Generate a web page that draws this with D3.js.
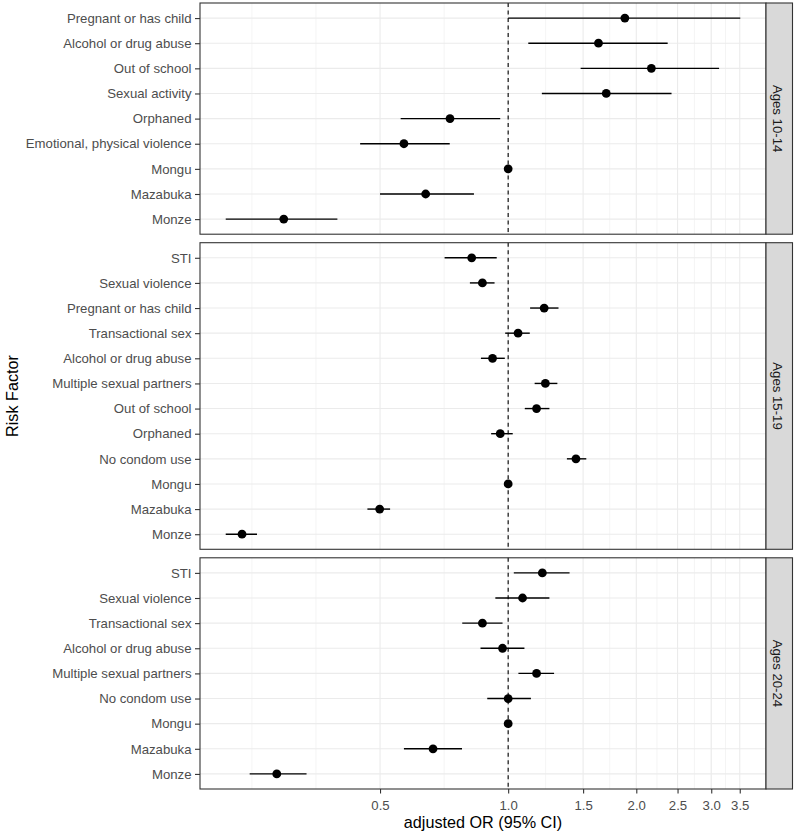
<!DOCTYPE html>
<html>
<head>
<meta charset="utf-8">
<script src="https://cdn.jsdelivr.net/npm/d3@7"></script>
<style>
  body { margin: 0; background: #fff; }
  svg { display: block; font-family: "Liberation Sans", Arial, sans-serif; }
</style>
</head>
<body>
<div id="chart"></div>
<script>
// facet labels
const panelNames = ["Ages 10-14", "Ages 15-19", "Ages 20-24"];

// Ages 10-14
const factors1014 = ["Pregnant or has child", "Alcohol or drug abuse", "Out of school", "Sexual activity",
  "Orphaned", "Emotional, physical violence", "Mongu", "Mazabuka", "Monze"];
const or1014 = [1.88, 1.63, 2.17, 1.70, 0.73, 0.569, 1.0, 0.64, 0.297];
const lower1014 = [1.0, 1.115, 1.48, 1.20, 0.559, 0.449, 1.0, 0.50, 0.217];
const upper1014 = [3.51, 2.37, 3.13, 2.42, 0.958, 0.729, 1.0, 0.831, 0.397];

// Ages 15-19
const factors1519 = ["STI", "Sexual violence", "Pregnant or has child", "Transactional sex", "Alcohol or drug abuse",
  "Multiple sexual partners", "Out of school", "Orphaned", "No condom use", "Mongu", "Mazabuka", "Monze"];
const or1519 = [0.821, 0.870, 1.215, 1.055, 0.919, 1.223, 1.166, 0.958, 1.443, 1.0, 0.499, 0.237];
const lower1519 = [0.709, 0.813, 1.126, 0.984, 0.863, 1.154, 1.094, 0.912, 1.374, 1.0, 0.467, 0.217];
const upper1519 = [0.940, 0.929, 1.313, 1.124, 0.982, 1.305, 1.25, 1.025, 1.526, 1.0, 0.528, 0.257];

// Ages 20-24
const factors2024 = ["STI", "Sexual violence", "Transactional sex", "Alcohol or drug abuse",
  "Multiple sexual partners", "No condom use", "Mongu", "Mazabuka", "Monze"];
const or2024 = [1.203, 1.081, 0.870, 0.970, 1.166, 1.0, 1.0, 0.666, 0.286];
const lower2024 = [1.031, 0.933, 0.780, 0.861, 1.057, 0.893, 1.0, 0.569, 0.247];
const upper2024 = [1.394, 1.25, 0.970, 1.092, 1.282, 1.131, 1.0, 0.779, 0.336];

const xTicks = [0.5, 1.0, 1.5, 2.0, 2.5, 3.0, 3.5];

const width = 794;
const height = 834;
const plotLeft = 200, plotRight = 766;
const plotTop = 3, plotBottom = 789;
const gap = 8.5;
const axisFont = "13.2px";
const titleFont = "16.2px";

function makeRows(factors, or, lower, upper) {
  return factors.map((f, i) => ({ factor: f, or: or[i], lower: lower[i], upper: upper[i] }));
}

const panels = [
  { name: panelNames[0], rows: makeRows(factors1014, or1014, lower1014, upper1014) },
  { name: panelNames[1], rows: makeRows(factors1519, or1519, lower1519, upper1519) },
  { name: panelNames[2], rows: makeRows(factors2024, or2024, lower2024, upper2024) }
];

// panel heights proportional to number of rows (space = "free")
const units = panels.map((p) => p.rows.length + 0.2);
const unitPx = (plotBottom - plotTop - gap * (panels.length - 1)) / d3.sum(units);
let yCursor = plotTop;
panels.forEach((p, i) => {
  p.top = yCursor;
  p.bottom = yCursor + units[i] * unitPx;
  yCursor = p.bottom + gap;
});

// log x scale with 5% expansion like ggplot
const allVals = panels.flatMap((p) => p.rows.flatMap((r) => [r.lower, r.upper, r.or]));
const logMin = Math.log(d3.min(allVals));
const logMax = Math.log(d3.max(allVals));
const pad = (logMax - logMin) * 0.05;
const x = d3.scaleLog()
  .domain([Math.exp(logMin - pad), Math.exp(logMax + pad)])
  .range([plotLeft, plotRight]);

// minor breaks the ggplot way (midpoints in log space)
const logTicks = xTicks.map(Math.log);
const bd = logTicks[1] - logTicks[0];
const ext = [logTicks[0] - bd, ...logTicks, logTicks[logTicks.length - 1] + bd];
const minorTicks = [];
for (let i = 0; i < ext.length - 1; i++) {
  minorTicks.push(Math.exp(ext[i]), Math.exp((ext[i] + ext[i + 1]) / 2));
}
const xDomain = x.domain();
const minorVisible = minorTicks.filter((v) => v > xDomain[0] && v < xDomain[1] && !xTicks.includes(v));

const svg = d3.select("#chart")
  .append("svg")
  .attr("width", width)
  .attr("height", height);

panels.forEach((p) => {
  const y = d3.scalePoint()
    .domain(p.rows.map((r) => r.factor))
    .range([p.top, p.bottom])
    .padding(0.6);

  const g = svg.append("g");

  g.append("rect")
    .attr("x", plotLeft).attr("y", p.top)
    .attr("width", plotRight - plotLeft).attr("height", p.bottom - p.top)
    .attr("fill", "#fff");

  // minor vertical grid
  g.selectAll(".minor")
    .data(minorVisible)
    .enter().append("line")
    .attr("x1", (d) => x(d)).attr("x2", (d) => x(d))
    .attr("y1", p.top).attr("y2", p.bottom)
    .attr("stroke", "#ebebeb").attr("stroke-width", 0.55);

  // major vertical grid
  g.selectAll(".major")
    .data(xTicks)
    .enter().append("line")
    .attr("x1", (d) => x(d)).attr("x2", (d) => x(d))
    .attr("y1", p.top).attr("y2", p.bottom)
    .attr("stroke", "#ebebeb").attr("stroke-width", 1.1);

  // horizontal grid
  g.selectAll(".hgrid")
    .data(p.rows)
    .enter().append("line")
    .attr("x1", plotLeft).attr("x2", plotRight)
    .attr("y1", (d) => y(d.factor)).attr("y2", (d) => y(d.factor))
    .attr("stroke", "#ebebeb").attr("stroke-width", 1.1);

  // reference line at OR = 1
  g.append("line")
    .attr("x1", x(1)).attr("x2", x(1))
    .attr("y1", p.top).attr("y2", p.bottom)
    .attr("stroke", "#000").attr("stroke-width", 1.1)
    .attr("stroke-dasharray", "4,3.5");

  // confidence intervals
  g.selectAll(".ci")
    .data(p.rows)
    .enter().append("line")
    .attr("x1", (d) => x(d.lower)).attr("x2", (d) => x(d.upper))
    .attr("y1", (d) => y(d.factor)).attr("y2", (d) => y(d.factor))
    .attr("stroke", "#000").attr("stroke-width", 1.4);

  // points
  g.selectAll(".pt")
    .data(p.rows)
    .enter().append("circle")
    .attr("cx", (d) => x(d.or))
    .attr("cy", (d) => y(d.factor))
    .attr("r", 4.4)
    .attr("fill", "#000");

  // panel border
  g.append("rect")
    .attr("x", plotLeft).attr("y", p.top)
    .attr("width", plotRight - plotLeft).attr("height", p.bottom - p.top)
    .attr("fill", "none").attr("stroke", "#333").attr("stroke-width", 1.1);

  // y axis
  const yAxis = g.append("g")
    .attr("transform", `translate(${plotLeft},0)`)
    .call(d3.axisLeft(y).tickSize(5).tickPadding(3.5));
  yAxis.select(".domain").remove();
  yAxis.selectAll(".tick line").attr("stroke", "#333").attr("stroke-width", 1.1);
  yAxis.selectAll(".tick text")
    .attr("fill", "#4d4d4d")
    .style("font-size", axisFont)
    .style("font-family", "'Liberation Sans', Arial, sans-serif");

  // strip on the right
  g.append("rect")
    .attr("x", plotRight).attr("y", p.top)
    .attr("width", 26.5).attr("height", p.bottom - p.top)
    .attr("fill", "#d9d9d9").attr("stroke", "#333").attr("stroke-width", 1.1);
  g.append("text")
    .attr("transform", `translate(${plotRight + 12},${(p.top + p.bottom) / 2}) rotate(90)`)
    .attr("text-anchor", "middle")
    .attr("dy", "0.35em")
    .attr("fill", "#1a1a1a")
    .style("font-size", axisFont)
    .text(p.name);
});

// x axis below the last panel
const last = panels[panels.length - 1];
const xAxis = svg.append("g")
  .attr("transform", `translate(0,${last.bottom})`)
  .call(d3.axisBottom(x).tickValues(xTicks).tickFormat(d3.format(".1f")).tickSize(4.5).tickPadding(7));
xAxis.select(".domain").remove();
xAxis.selectAll(".tick line").attr("stroke", "#333").attr("stroke-width", 1.1);
xAxis.selectAll(".tick text")
  .attr("fill", "#4d4d4d")
  .style("font-size", axisFont)
  .style("font-family", "'Liberation Sans', Arial, sans-serif");

// axis titles
svg.append("text")
  .attr("x", (plotLeft + plotRight) / 2)
  .attr("y", 828)
  .attr("text-anchor", "middle")
  .attr("fill", "#000")
  .style("font-size", titleFont)
  .text("adjusted OR (95% CI)");

svg.append("text")
  .attr("transform", `translate(17.5,${(plotTop + plotBottom) / 2}) rotate(-90)`)
  .attr("text-anchor", "middle")
  .attr("fill", "#000")
  .style("font-size", titleFont)
  .text("Risk Factor");
</script>
</body>
</html>
